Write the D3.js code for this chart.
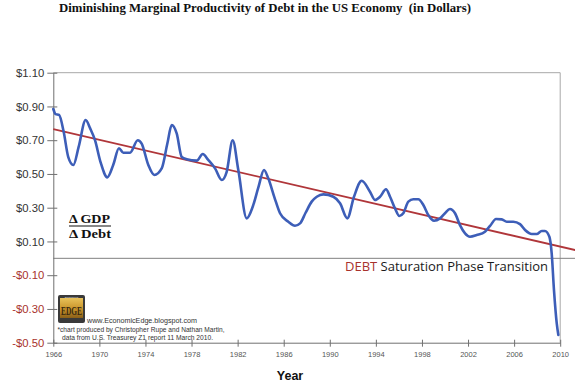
<!DOCTYPE html>
<html><head><meta charset="utf-8">
<script src="https://cdn.jsdelivr.net/npm/d3@7"></script>
<style>body{margin:0;background:#fff;}svg{display:block;}</style>
</head><body>
<svg id="chart" width="575" height="387"></svg>
<script>
// ---- data ----
const years = [1966.0,1966.2,1966.5,1966.9,1967.3,1967.74,1968.2,1968.81,1969.2,1969.62,1970.1,1970.69,1971.2,1971.7,1972.08,1972.66,1973.33,1973.67,1974.25,1974.77,1975.41,1975.9,1976.28,1976.71,1977.15,1977.58,1978.45,1978.97,1979.45,1980.04,1980.62,1981.05,1981.57,1982.06,1982.79,1983.31,1983.8,1984.29,1984.66,1985.2,1985.68,1986.4,1986.98,1987.42,1987.9,1988.43,1988.87,1989.44,1990.31,1990.89,1991.52,1992.1,1992.77,1993.49,1993.93,1994.36,1994.88,1995.23,1995.66,1996.04,1996.38,1996.82,1997.25,1997.68,1998.12,1998.55,1999.05,1999.57,2000.0,2000.43,2000.87,2001.3,2001.74,2002.17,2002.75,2003.47,2003.91,2004.43,2004.92,2005.36,2005.93,2006.51,2006.95,2007.53,2007.96,2008.4,2008.68,2009.06,2009.26,2009.46,2009.7,2009.84];
const productivity = [0.885,0.855,0.85,0.75,0.60,0.553,0.66,0.82,0.77,0.70,0.57,0.48,0.553,0.652,0.626,0.626,0.70,0.68,0.553,0.494,0.533,0.68,0.79,0.74,0.60,0.587,0.579,0.618,0.583,0.533,0.464,0.513,0.70,0.523,0.237,0.306,0.42,0.523,0.474,0.36,0.267,0.217,0.193,0.207,0.27,0.336,0.365,0.379,0.365,0.326,0.237,0.365,0.46,0.395,0.346,0.365,0.409,0.365,0.296,0.251,0.267,0.336,0.35,0.35,0.316,0.257,0.223,0.237,0.267,0.292,0.267,0.197,0.148,0.128,0.138,0.158,0.192,0.233,0.231,0.217,0.217,0.203,0.168,0.144,0.144,0.162,0.162,0.128,0.03,-0.188,-0.385,-0.454];
const trendYears = [1966, 2011.3];
const trendValues = [0.765, 0.049];
const yTicks = [1.10,0.90,0.70,0.50,0.30,0.10,-0.10,-0.30,-0.50];
const xTicks = [1966,1970,1974,1978,1982,1986,1990,1994,1998,2002,2006,2010];

// ---- layout ----
const svg = d3.select("#chart");
const L = 53.3, R = 560.2, T = 72.7, B = 342.7;
const x = d3.scaleLinear().domain([1966, 2010]).range([L, R]);
const y = d3.scaleLinear().domain([-0.5, 1.1]).range([B, T]);

// title
svg.append("text").attr("x", 265).attr("y", 11.5).attr("text-anchor", "middle")
  .style("white-space", "pre")
  .attr("font-family", "'Liberation Serif', 'DejaVu Serif', serif").attr("font-weight", "bold")
  .attr("font-size", 12.5).attr("fill", "#111")
  .attr("textLength", 412).attr("lengthAdjust", "spacingAndGlyphs")
  .text("Diminishing Marginal Productivity of Debt in the US Economy  (in Dollars)");

// frame (top and right)
svg.append("line").attr("x1", L).attr("x2", R).attr("y1", T).attr("y2", T).attr("stroke", "#a8a8a8").attr("stroke-width", 1);
svg.append("line").attr("x1", R).attr("x2", R).attr("y1", T).attr("y2", B).attr("stroke", "#a8a8a8").attr("stroke-width", 1);

// zero line
svg.append("line").attr("x1", L).attr("x2", 575).attr("y1", y(0)).attr("y2", y(0)).attr("stroke", "#808080").attr("stroke-width", 1);

// y axis
const yAxis = d3.axisLeft(y).tickValues(yTicks).tickSize(0).tickPadding(9)
  .tickFormat(d => (d < 0 ? "-$" : "$") + Math.abs(d).toFixed(2));
const gy = svg.append("g").attr("transform", `translate(${L},0)`).call(yAxis);
gy.select(".domain").attr("stroke", "#707070");
gy.selectAll(".tick text").attr("font-family", "'Liberation Sans', Arial, sans-serif").attr("font-size", 11.3)
  .attr("fill", d => d < 0 ? "#a8322c" : "#333");
gy.selectAll(".tick").append("line").attr("x1", -6).attr("x2", 4).attr("stroke", "#707070");

// x axis
const xAxis = d3.axisBottom(x).tickValues(xTicks).tickSize(0).tickPadding(9).tickFormat(d3.format("d"));
const gx = svg.append("g").attr("transform", `translate(0,${B})`).call(xAxis);
gx.select(".domain").attr("stroke", "#707070");
gx.selectAll(".tick text").attr("font-family", "'Liberation Sans', Arial, sans-serif").attr("font-size", 7.5).attr("fill", "#555");
gx.selectAll(".tick").append("line").attr("y1", -3).attr("y2", 4).attr("stroke", "#707070");

svg.append("text").attr("x", 290).attr("y", 380).attr("text-anchor", "middle")
  .attr("font-family", "'Liberation Sans', Arial, sans-serif").attr("font-weight", "bold").attr("font-size", 12.5)
  .attr("fill", "#111").text("Year");

// trend line (red)
const trendLine = d3.line().x((d, i) => x(trendYears[i])).y(d => y(d));
svg.append("path").attr("d", trendLine(trendValues)).attr("fill", "none")
  .attr("stroke", "#b0363a").attr("stroke-width", 1.8);

// productivity line (blue)
const line = d3.line().x((d, i) => x(years[i])).y(d => y(d)).curve(d3.curveMonotoneX);
svg.append("path").attr("d", line(productivity)).attr("fill", "none")
  .attr("stroke", "#3d5eb8").attr("stroke-width", 2.6).attr("stroke-linejoin", "round").attr("stroke-linecap", "round");

// Δ GDP / Δ Debt
const fracFont = "'Liberation Serif', 'DejaVu Serif', serif";
svg.append("text").attr("x", 69).attr("y", 222.5).attr("font-family", fracFont).attr("font-weight", "bold")
  .attr("font-size", 11.5).attr("fill", "#111").attr("textLength", 41).attr("lengthAdjust", "spacingAndGlyphs").text("\u0394 GDP");
svg.append("line").attr("x1", 69).attr("x2", 111).attr("y1", 226).attr("y2", 226).attr("stroke", "#111").attr("stroke-width", 1.1);
svg.append("text").attr("x", 69).attr("y", 237.5).attr("font-family", fracFont).attr("font-weight", "bold")
  .attr("font-size", 11.5).attr("fill", "#111").attr("textLength", 42).attr("lengthAdjust", "spacingAndGlyphs").text("\u0394 Debt");

// DEBT Saturation Phase Transition
const sat = svg.append("text").attr("x", 345).attr("y", 271).attr("font-family", "'Open Sans', 'Noto Sans', sans-serif")
  .attr("font-size", 13.5).attr("textLength", 203).attr("lengthAdjust", "spacingAndGlyphs");
sat.append("tspan").attr("fill", "#a8322c").text("DEBT");
sat.append("tspan").attr("fill", "#1a1a1a").text(" Saturation Phase Transition");

// logo
const logo = svg.append("g");
const grad = svg.append("defs").append("linearGradient").attr("id", "gold").attr("x1", 0).attr("x2", 0).attr("y1", 0).attr("y2", 1);
grad.append("stop").attr("offset", "0%").attr("stop-color", "#e8c25a");
grad.append("stop").attr("offset", "55%").attr("stop-color", "#c9942a");
grad.append("stop").attr("offset", "100%").attr("stop-color", "#8a5f18");
logo.append("rect").attr("x", 58).attr("y", 295).attr("width", 27).attr("height", 28).attr("rx", 2).attr("fill", "#3a3a3a");
logo.append("rect").attr("x", 60).attr("y", 298).attr("width", 23).attr("height", 20).attr("fill", "url(#gold)");
logo.append("text").attr("x", 71.5).attr("y", 297.5).attr("text-anchor", "middle").attr("font-family", "'Liberation Sans', sans-serif")
  .attr("font-size", 2.5).attr("fill", "#ddd").text("ECONOMIC");
logo.append("text").attr("x", 71.5).attr("y", 315).attr("text-anchor", "middle").attr("font-family", "'Liberation Serif', serif")
  .attr("font-weight", "bold").attr("font-size", 13).attr("fill", "#3a2a10").attr("textLength", 21).attr("lengthAdjust", "spacingAndGlyphs").text("EDGE");

const smallFont = "'Liberation Sans', Arial, sans-serif";
svg.append("text").attr("x", 87).attr("y", 322.5).attr("font-family", smallFont).attr("font-size", 6.8).attr("fill", "#333")
  .attr("textLength", 110).attr("lengthAdjust", "spacingAndGlyphs").text("www.EconomicEdge.blogspot.com");
svg.append("text").attr("x", 57.5).attr("y", 332).attr("font-family", smallFont).attr("font-size", 6.8).attr("fill", "#333")
  .attr("textLength", 167).attr("lengthAdjust", "spacingAndGlyphs").text("*chart produced by Christopher Rupe and Nathan Martin,");
svg.append("text").attr("x", 62).attr("y", 339.5).attr("font-family", smallFont).attr("font-size", 6.8).attr("fill", "#333")
  .attr("textLength", 151).attr("lengthAdjust", "spacingAndGlyphs").text("data from U.S. Treasurey Z1 report 11 March 2010.");
</script>
</body></html>
